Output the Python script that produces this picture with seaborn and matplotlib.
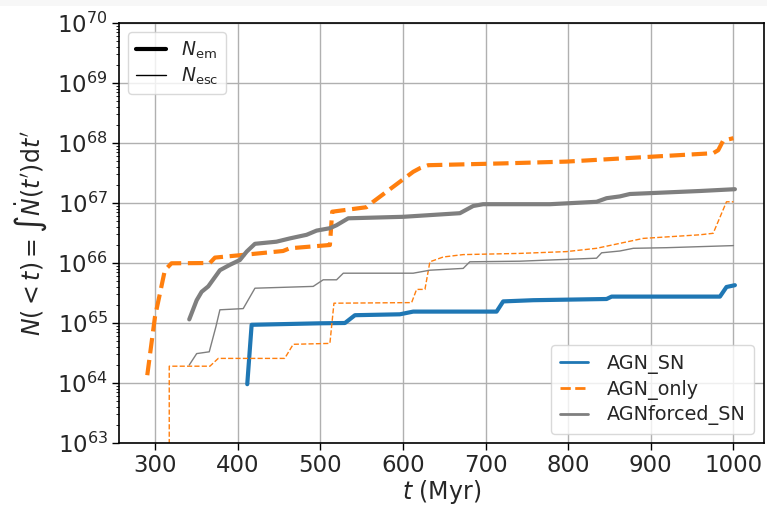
import numpy as np
import pandas as pd
import matplotlib
matplotlib.use("Agg")
import matplotlib.pyplot as plt
from matplotlib.lines import Line2D
from matplotlib.patches import Rectangle
from matplotlib.ticker import NullFormatter, LogLocator
import seaborn as sns

# ---------------- data ----------------
# AGN_SN, emitted (thick)
agn_sn_em_t = [411.7, 417, 499.6, 529.9, 542, 596.4, 612.5, 713.4, 721.4, 757.7,
               846.5, 852.6, 983.7, 991.6, 1001.8]
agn_sn_em_log = [63.98, 64.97, 64.995, 65.0, 65.13, 65.145, 65.19, 65.19, 65.36, 65.38,
                 65.40, 65.44, 65.44, 65.60, 65.63]

# AGN_only, emitted (thick dashed)
agn_only_em_t = [290.7, 300, 312, 320, 366.5, 372.6, 403, 455, 463, 511.7, 514.5,
                 556, 564, 612.5, 620.6, 630.7, 721, 798, 899, 975.5, 981.6, 987.6, 1000]
agn_only_em_log = [64.13, 65.1, 65.88, 65.995, 66.0, 66.09, 66.13, 66.2, 66.245, 66.3,
                   66.855, 66.93, 67.02, 67.52, 67.58, 67.63, 67.66, 67.69, 67.77,
                   67.83, 67.88, 68.04, 68.08]

# AGN_only, escaped (thin dashed)
agn_only_esc_t = [317.3, 317.3, 366.5, 376.6, 457, 467.3, 511.7, 516.6, 610.6, 616.6,
                  626.7, 632.7, 648.8, 673, 741.6, 798, 834.4, 890.8, 959.4, 975.5,
                  991.6, 1000]
agn_only_esc_log = [62.0, 64.28, 64.28, 64.41, 64.41, 64.645, 64.66, 65.33, 65.34, 65.56,
                    65.56, 66.02, 66.10, 66.14, 66.16, 66.19, 66.245, 66.41, 66.47,
                    66.495, 67.02, 67.02]

# AGNforced_SN, emitted (thick)
agnf_em_t = [341.5, 350.5, 356.5, 364.5, 378.6, 390.7, 402.8, 411, 421, 447, 463.3,
             483.5, 495.6, 511.7, 519.8, 533.9, 600.4, 669, 685.1, 697.2, 778, 834.4,
             846.5, 862.6, 874.7, 959.4, 1001.8]
agnf_em_log = [65.06, 65.38, 65.52, 65.61, 65.88, 65.97, 66.05, 66.19, 66.32, 66.355,
               66.41, 66.47, 66.54, 66.58, 66.63, 66.745, 66.77, 66.83, 66.95, 66.98,
               66.98, 67.02, 67.08, 67.11, 67.15, 67.20, 67.23]

# AGNforced_SN, escaped (thin)
agnf_esc_t = [341.5, 350.5, 365.7, 373.8, 378.6, 406.8, 421, 491.5, 503.6, 519.8,
              527.9, 612.5, 632.7, 673, 681, 741.6, 778, 834.4, 840.5, 862.6, 878.8,
              919, 1000]
agnf_esc_log = [64.30, 64.49, 64.52, 64.94, 65.22, 65.24, 65.58, 65.61, 65.72, 65.72,
                65.83, 65.83, 65.88, 65.91, 66.02, 66.03, 66.05, 66.08, 66.17, 66.20,
                66.245, 66.255, 66.29]

run_names = ["AGN_SN", "AGN_only", "AGNforced_SN"]
run_colors = ["#1f77b4", "#ff7f0e", "#7f7f7f"]
x_ticks = [300, 400, 500, 600, 700, 800, 900, 1000]
y_tick_exps = [63, 64, 65, 66, 67, 68, 69, 70]

# ---------------- plotting ----------------
sns.set_theme(style="ticks")
plt.rcParams["font.family"] = ["DejaVu Sans"]
plt.rcParams["mathtext.fontset"] = "dejavusans"

fig = plt.figure(figsize=(7.67, 5.12), dpi=100)
fig.patch.set_facecolor("white")
fig.patches.append(Rectangle((0, 1 - 5.5 / 512), 1, 5.5 / 512, transform=fig.transFigure,
                             facecolor="#f7f7f7", edgecolor="none", zorder=-10))
ax = fig.add_axes([119 / 767, 1 - 443 / 512, (764 - 119) / 767, (443 - 23) / 512])


def draw(t, logv, color, lw, ls):
    df = pd.DataFrame({"t": t, "N": np.power(10.0, np.array(logv))})
    sns.lineplot(data=df, x="t", y="N", ax=ax, color=color, linewidth=lw,
                 linestyle=ls, estimator=None, sort=False, legend=False)


draw(agn_sn_em_t, agn_sn_em_log, run_colors[0], 3, "-")
draw(agn_only_esc_t, agn_only_esc_log, run_colors[1], 1, "--")
draw(agn_only_em_t, agn_only_em_log, run_colors[1], 3, "--")
draw(agnf_esc_t, agnf_esc_log, run_colors[2], 1, "-")
draw(agnf_em_t, agnf_em_log, run_colors[2], 3, "-")

ax.set_yscale("log")
ax.set_ylim(1e63, 1e70)
ax.set_xlim(256.5, 1037)
ax.set_xticks(x_ticks)
ax.set_yticks([10.0 ** e for e in y_tick_exps],
              [rf"$10^{{{e}}}$" for e in y_tick_exps])
ax.yaxis.set_minor_locator(LogLocator(base=10, subs=np.arange(2, 10), numticks=20))
ax.yaxis.set_minor_formatter(NullFormatter())
ax.grid(True, which="major", color="#b0b0b0", linewidth=1)
ax.tick_params(axis="both", which="major", labelsize=16.5, length=5, width=1,
               color="black", direction="out", pad=3)
ax.tick_params(axis="y", which="minor", length=2.5, width=0.6, color="black")
for s in ax.spines.values():
    s.set_color("black")
    s.set_linewidth(1.2)

ax.set_xlabel(r"$t$ (Myr)", fontsize=17, labelpad=1)
ax.set_ylabel(r"$N(<t) = \int\dot{N}(t')\mathrm{d}t'$", fontsize=17, labelpad=6)

# legend 1: emitted vs escaped
h1 = [Line2D([], [], color="black", lw=3), Line2D([], [], color="black", lw=1)]
leg1 = ax.legend(h1, [r"$N_{\rm em}$", r"$N_{\rm esc}$"], loc="upper left",
                 fontsize=13.5, frameon=True, handlelength=1.6, handletextpad=0.8,
                 labelspacing=0.22, borderpad=0.4)
leg1.get_frame().set_edgecolor("#d0d0d0")
ax.add_artist(leg1)

# legend 2: runs
h2 = [Line2D([], [], color=run_colors[0], lw=2, ls="-"),
      Line2D([], [], color=run_colors[1], lw=2, ls="--"),
      Line2D([], [], color=run_colors[2], lw=2, ls="-")]
leg2 = ax.legend(h2, run_names, loc="lower right", fontsize=13.8, frameon=True,
                 handlelength=1.5, handletextpad=0.95, labelspacing=0.3,
                 borderpad=0.45, bbox_to_anchor=(0.9845, 0.0214), borderaxespad=0)
leg2.get_frame().set_edgecolor("#d0d0d0")

fig.savefig("out.png", dpi=100)
